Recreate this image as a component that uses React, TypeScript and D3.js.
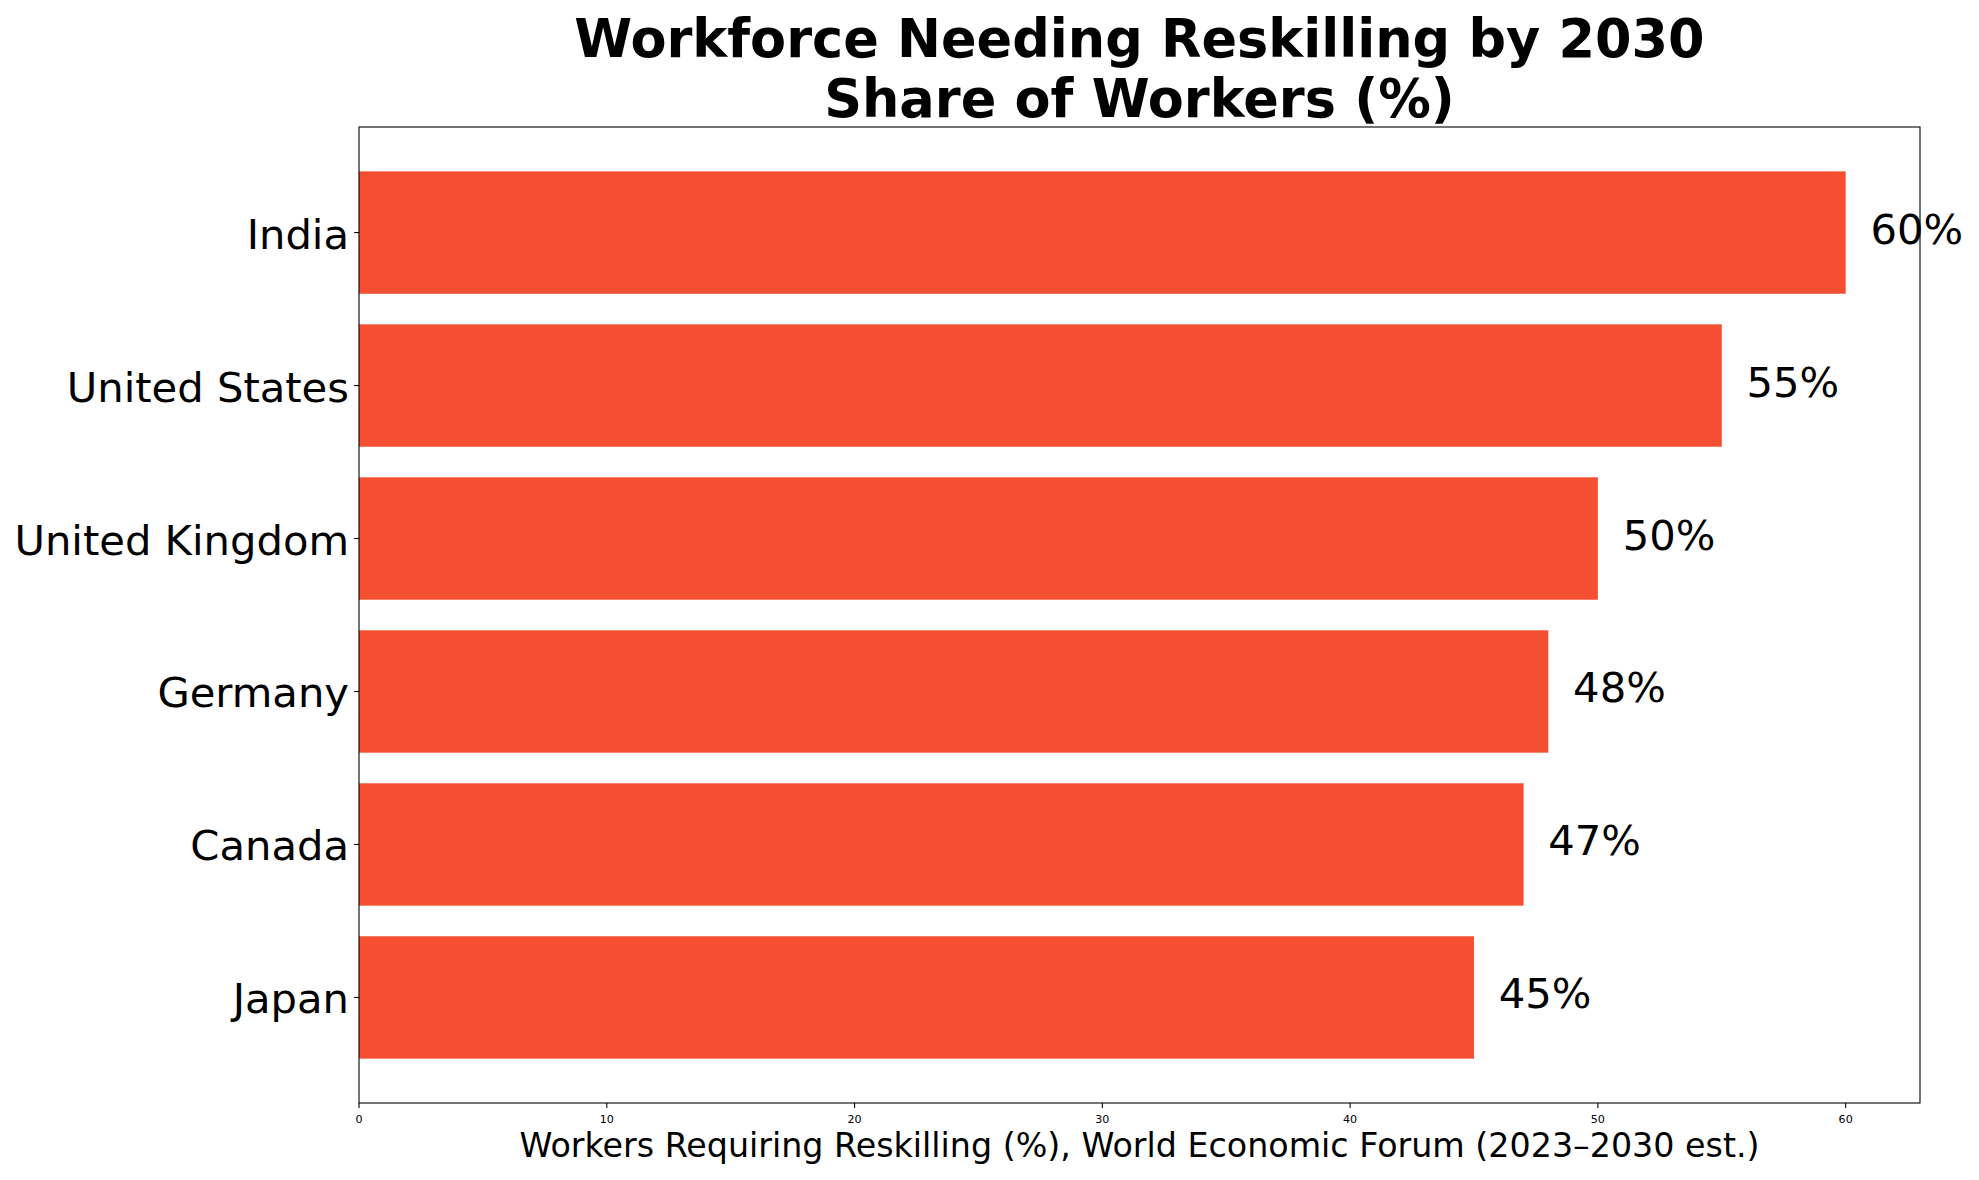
import React, { useRef, useEffect } from "react";
import * as d3 from "d3";

const countries = ["Japan", "Canada", "Germany", "United Kingdom", "United States", "India"];
const shares = [45, 47, 48, 50, 55, 60];
const xTicks = [0, 10, 20, 30, 40, 50, 60];

const titleLines = ["Workforce Needing Reskilling by 2030", "Share of Workers (%)"];
const xLabel = "Workers Requiring Reskilling (%), World Economic Forum (2023\u20132030 est.)";

export default function App() {
    const ref = useRef<SVGSVGElement>(null);

    useEffect(() => {
        const svg = d3.select(ref.current);
        svg.selectAll("*").remove();

        const width = 1979;
        const height = 1180;
        const left = 359;
        const right = 1920;
        const top = 127;
        const bottom = 1103;
        const font = "'DejaVu Sans', sans-serif";

        svg.append("rect").attr("width", width).attr("height", height).attr("fill", "#ffffff");

        const x = d3.scaleLinear().domain([0, 63]).range([left, right]);
        // matplotlib barh: bars 0.8 wide, 5% margins
        const y = d3.scaleLinear().domain([-0.69, 5.69]).range([bottom, top]);
        const barH = y(0) - y(0.8);

        const g = svg.append("g");

        g.selectAll("rect.bar")
            .data(shares)
            .enter()
            .append("rect")
            .attr("class", "bar")
            .attr("x", x(0))
            .attr("y", (d, i) => y(i + 0.4))
            .attr("width", (d) => x(d) - x(0))
            .attr("height", barH)
            .attr("fill", "#F34F30");

        g.selectAll("text.val")
            .data(shares)
            .enter()
            .append("text")
            .attr("class", "val")
            .attr("x", (d) => x(d + 1))
            .attr("y", (d, i) => y(i) + 11)
            .attr("font-family", font)
            .attr("font-size", 41.7)
            .attr("fill", "#000")
            .text((d) => d + "%");

        // frame
        svg.append("rect")
            .attr("x", left)
            .attr("y", top)
            .attr("width", right - left)
            .attr("height", bottom - top)
            .attr("fill", "none")
            .attr("stroke", "#000")
            .attr("stroke-width", 1.1);

        // y ticks
        const yt = svg.append("g");
        countries.forEach((c, i) => {
            yt.append("line")
                .attr("x1", left - 4.9)
                .attr("x2", left)
                .attr("y1", y(i))
                .attr("y2", y(i))
                .attr("stroke", "#000")
                .attr("stroke-width", 1.1);
            yt.append("text")
                .attr("x", left - 10)
                .attr("y", y(i) + 16)
                .attr("text-anchor", "end")
                .attr("font-family", font)
                .attr("font-size", 41.7)
                .attr("fill", "#000")
                .text(c);
        });

        // x ticks
        const xt = svg.append("g");
        xTicks.forEach((t) => {
            xt.append("line")
                .attr("x1", x(t))
                .attr("x2", x(t))
                .attr("y1", bottom)
                .attr("y2", bottom + 4.9)
                .attr("stroke", "#000")
                .attr("stroke-width", 1.1);
            xt.append("text")
                .attr("x", x(t))
                .attr("y", bottom + 20)
                .attr("text-anchor", "middle")
                .attr("font-family", font)
                .attr("font-size", 11.1)
                .attr("fill", "#000")
                .text(t);
        });

        svg.append("text")
            .attr("x", (left + right) / 2)
            .attr("y", 1157)
            .attr("text-anchor", "middle")
            .attr("font-family", font)
            .attr("font-size", 33.3)
            .attr("fill", "#000")
            .text(xLabel);

        titleLines.forEach((t, i) => {
            svg.append("text")
                .attr("x", (left + right) / 2)
                .attr("y", 57 + i * 60)
                .attr("text-anchor", "middle")
                .attr("font-family", font)
                .attr("font-size", 52.5)
                .attr("font-weight", "bold")
                .attr("fill", "#000")
                .text(t);
        });
    }, []);

    return (
        <div className="container">
            <svg
                ref={ref}
                width="1979"
                height="1180"
                style={{ position: "absolute", left: 0, top: 0 }}
            ></svg>
        </div>
    );
}
